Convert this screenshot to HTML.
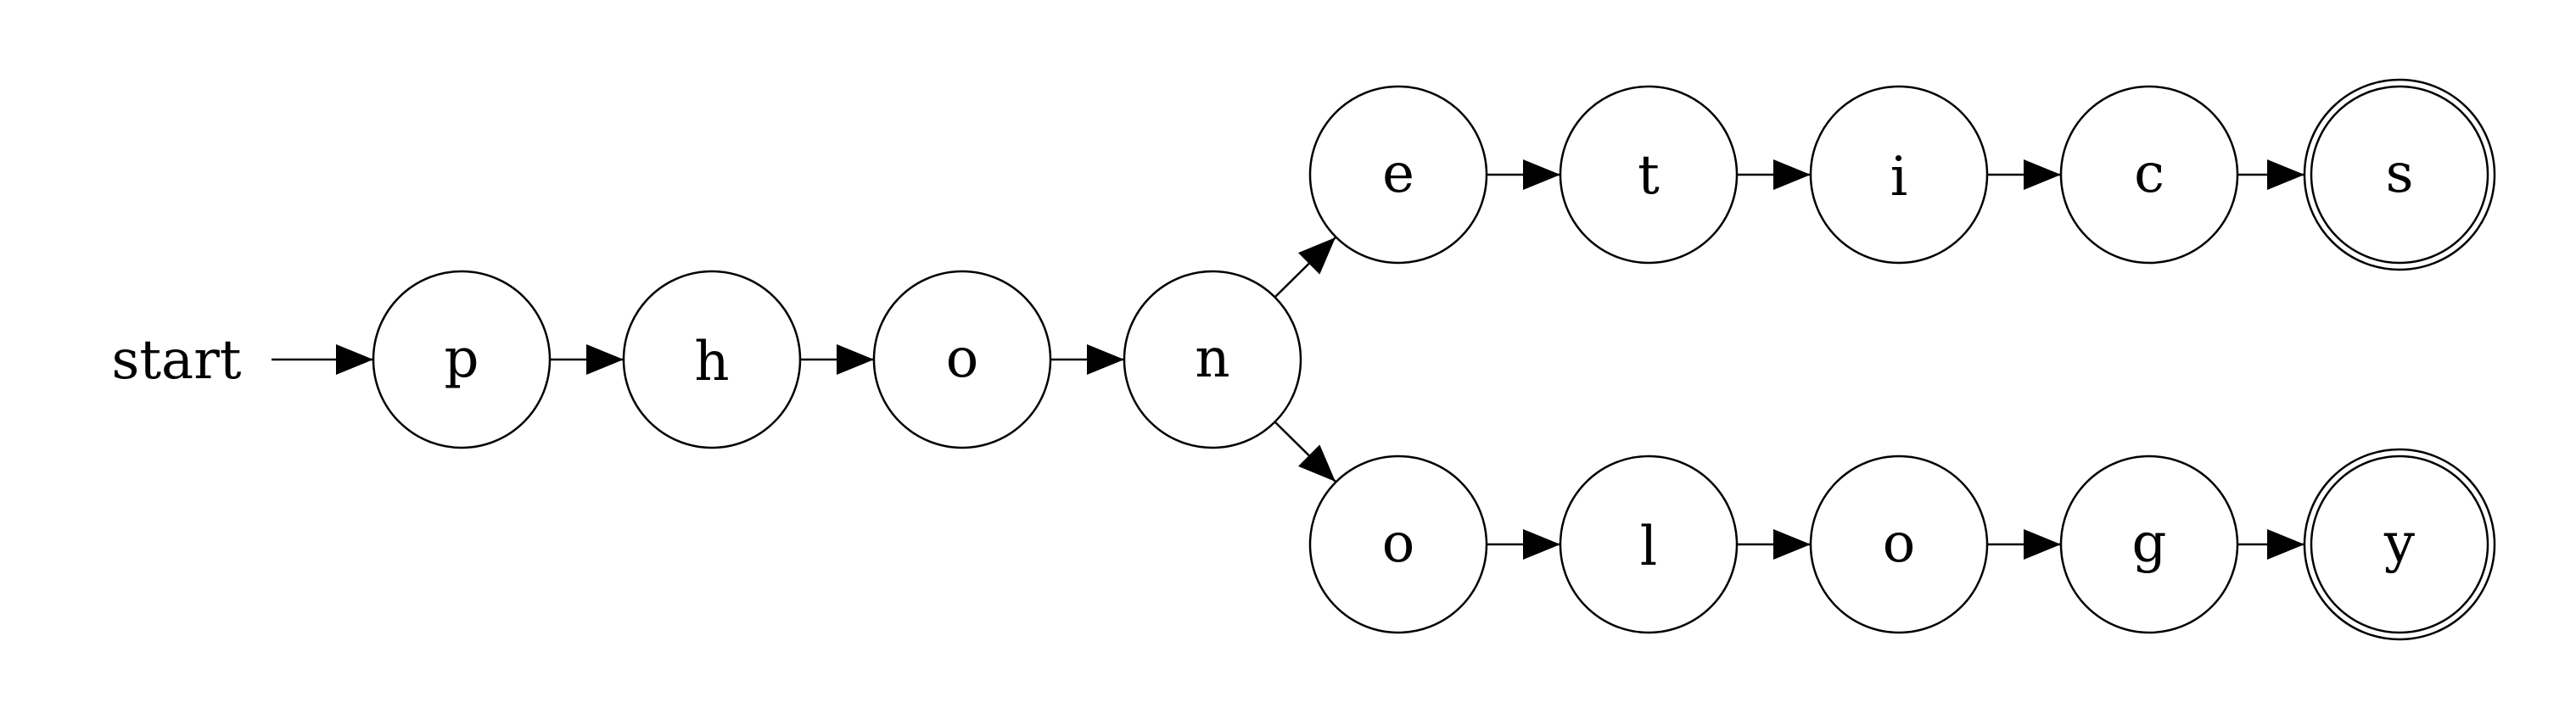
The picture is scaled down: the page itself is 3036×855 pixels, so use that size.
<!DOCTYPE html>
<html><head><style>html,body{margin:0;padding:0;background:#fff}</style></head>
<body>
<svg width="3036" height="850" viewBox="0 0 3036 850" xmlns="http://www.w3.org/2000/svg">
<defs>
<marker id="a" markerWidth="44" markerHeight="36" refX="44" refY="18" orient="auto" markerUnits="userSpaceOnUse">
<path d="M0,0 L44,18 L0,36 z" fill="#000"/>
</marker>
</defs>
<g font-family="'DejaVu Serif', 'Liberation Serif', serif" font-size="64" text-anchor="middle" fill="#000">
<text x="208" y="446">start</text>
</g>
<g stroke="#000" stroke-width="2.5" fill="none">
<line x1="320" y1="424" x2="440" y2="424" marker-end="url(#a)"/>
<ellipse cx="544" cy="424" rx="104" ry="104"/>
<ellipse cx="839" cy="424" rx="104" ry="104"/>
<ellipse cx="1134" cy="424" rx="104" ry="104"/>
<ellipse cx="1429" cy="424" rx="104" ry="104"/>
<line x1="648" y1="424" x2="735" y2="424" marker-end="url(#a)"/>
<line x1="943" y1="424" x2="1030" y2="424" marker-end="url(#a)"/>
<line x1="1238" y1="424" x2="1325" y2="424" marker-end="url(#a)"/>
<line x1="1503" y1="350" x2="1574" y2="280" marker-end="url(#a)"/>
<line x1="1503" y1="498" x2="1574" y2="568" marker-end="url(#a)"/>
<ellipse cx="1648" cy="206" rx="104" ry="104"/>
<ellipse cx="1943" cy="206" rx="104" ry="104"/>
<ellipse cx="2238" cy="206" rx="104" ry="104"/>
<ellipse cx="2533" cy="206" rx="104" ry="104"/>
<ellipse cx="2828" cy="206" rx="104" ry="104"/>
<ellipse cx="2828" cy="206" rx="112" ry="112"/>
<ellipse cx="1648" cy="642" rx="104" ry="104"/>
<ellipse cx="1943" cy="642" rx="104" ry="104"/>
<ellipse cx="2238" cy="642" rx="104" ry="104"/>
<ellipse cx="2533" cy="642" rx="104" ry="104"/>
<ellipse cx="2828" cy="642" rx="104" ry="104"/>
<ellipse cx="2828" cy="642" rx="112" ry="112"/>
<line x1="1752" y1="206" x2="1839" y2="206" marker-end="url(#a)"/>
<line x1="2047" y1="206" x2="2134" y2="206" marker-end="url(#a)"/>
<line x1="2342" y1="206" x2="2429" y2="206" marker-end="url(#a)"/>
<line x1="2637" y1="206" x2="2716" y2="206" marker-end="url(#a)"/>
<line x1="1752" y1="642" x2="1839" y2="642" marker-end="url(#a)"/>
<line x1="2047" y1="642" x2="2134" y2="642" marker-end="url(#a)"/>
<line x1="2342" y1="642" x2="2429" y2="642" marker-end="url(#a)"/>
<line x1="2637" y1="642" x2="2716" y2="642" marker-end="url(#a)"/>
</g>
<g font-family="'DejaVu Serif', 'Liberation Serif', serif" font-size="64" text-anchor="middle" fill="#000">
<text x="544" y="444">p</text>
<text x="839" y="448">h</text>
<text x="1134" y="444">o</text>
<text x="1429" y="444">n</text>
<text x="1648" y="226">e</text>
<text x="1943" y="228">t</text>
<text x="2238" y="230">i</text>
<text x="2533" y="226">c</text>
<text x="2828" y="226">s</text>
<text x="1648" y="662">o</text>
<text x="1943" y="666">l</text>
<text x="2238" y="662">o</text>
<text x="2533" y="662">g</text>
<text x="2828" y="662">y</text>
</g>
</svg>
</body></html>
